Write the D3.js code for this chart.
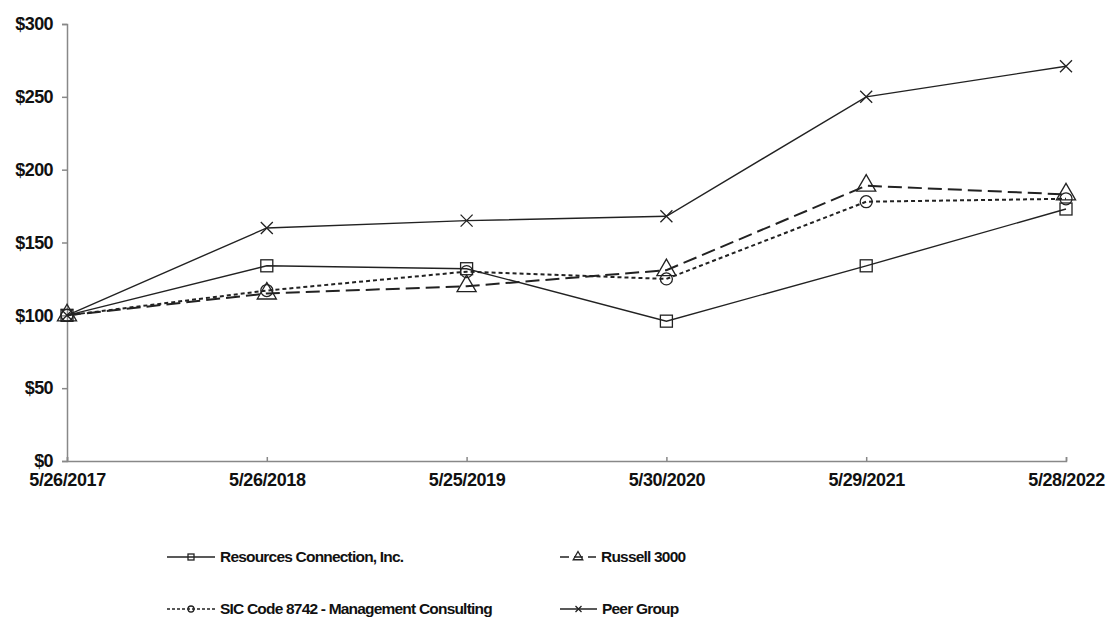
<!DOCTYPE html>
<html>
<head>
<meta charset="utf-8">
<script src="https://cdn.jsdelivr.net/npm/d3@7"></script>
<style>
  body { margin: 0; background: #fff; }
  text { font-family: "Liberation Sans", Arial, sans-serif; font-weight: bold; fill: #111; }
</style>
</head>
<body>
<div id="chart"></div>
<script>
// data
var dates = ["5/26/2017", "5/26/2018", "5/25/2019", "5/30/2020", "5/29/2021", "5/28/2022"];
var resources = [100, 134, 132, 96, 134, 173];
var russell = [100, 115, 120, 131, 189, 183];
var sic = [100, 117, 130, 125, 178, 180];
var peer = [100, 160, 165, 168, 250, 271];
var yTicks = [0, 50, 100, 150, 200, 250, 300];

var margin = {top: 24, right: 44, bottom: 158, left: 67},
    width = 1110 - margin.left - margin.right,
    height = 619 - margin.top - margin.bottom;

var svg = d3.select("#chart").append("svg")
    .attr("width", 1110)
    .attr("height", 619)
  .append("g")
    .attr("transform", "translate(" + margin.left + "," + margin.top + ")");

var x = d3.scalePoint().domain(dates).range([0, width]);
var y = d3.scaleLinear().domain([0, 300]).range([height, 0]);

// y axis
var yAxis = svg.append("g")
    .call(d3.axisLeft(y).tickValues(yTicks).tickSize(5).tickPadding(9)
      .tickFormat(function(d) { return "$" + d; }));
yAxis.selectAll("text").style("font-size", "18px").style("letter-spacing", "-0.6px");

// x axis, ticks point up into the plot
var xAxis = svg.append("g")
    .attr("transform", "translate(0," + height + ")")
    .call(d3.axisBottom(x).tickSize(-4).tickPadding(14));
xAxis.selectAll("text").style("font-size", "18px").style("letter-spacing", "-0.4px").attr("dy", "0.6em");

svg.selectAll(".domain, .tick line").attr("stroke", "#888").attr("stroke-width", 1.5);

var series = [
  {name: "Resources Connection, Inc.", values: resources, dash: null, marker: "square"},
  {name: "Russell 3000", values: russell, dash: "14,6", marker: "triangle"},
  {name: "SIC Code 8742 - Management Consulting", values: sic, dash: "4,3", marker: "circle"},
  {name: "Peer Group", values: peer, dash: null, marker: "cross"}
];

var line = d3.line()
    .x(function(d, i) { return x(dates[i]); })
    .y(function(d) { return y(d); });

function drawMarker(g, type, size) {
  if (type === "square") {
    g.append("rect").attr("x", -size).attr("y", -size)
      .attr("width", size * 2).attr("height", size * 2)
      .attr("fill", "none").attr("stroke", "#222").attr("stroke-width", 1.3);
  } else if (type === "triangle") {
    g.append("path").attr("d", d3.symbol(d3.symbolTriangle, size * size * 4.4)())
      .attr("fill", "none").attr("stroke", "#222").attr("stroke-width", 1.3);
  } else if (type === "circle") {
    g.append("circle").attr("r", size)
      .attr("fill", "none").attr("stroke", "#222").attr("stroke-width", 1.3);
  } else {
    g.append("path")
      .attr("d", "M" + (-size) + "," + (-size) + "L" + size + "," + size +
                 "M" + (-size) + "," + size + "L" + size + "," + (-size))
      .attr("stroke", "#222").attr("stroke-width", 1.3);
  }
}

series.forEach(function(s) {
  svg.append("path")
      .datum(s.values)
      .attr("fill", "none")
      .attr("stroke", "#222")
      .attr("stroke-width", s.dash ? 2 : 1.4)
      .attr("stroke-dasharray", s.dash)
      .attr("d", line);

  s.values.forEach(function(v, i) {
    var g = svg.append("g")
        .attr("transform", "translate(" + x(dates[i]) + "," + y(v) + ")");
    drawMarker(g, s.marker, 6);
  });
});

// legend
var legendPos = [
  {lx: 167, ly: 557, len: 48},
  {lx: 560, ly: 557, len: 36},
  {lx: 167, ly: 609, len: 48},
  {lx: 560, ly: 609, len: 37}
];
var legend = d3.select("svg").append("g");
series.forEach(function(s, i) {
  var p = legendPos[i];
  var g = legend.append("g").attr("transform", "translate(" + p.lx + "," + p.ly + ")");
  g.append("line")
      .attr("x1", 0).attr("x2", p.len)
      .attr("stroke", "#222").attr("stroke-width", 1.5)
      .attr("stroke-dasharray", s.dash ? (s.marker === "triangle" ? "9,5" : "3,2") : null);
  var m = g.append("g").attr("transform", "translate(" + (p.len / 2) + ",0)");
  drawMarker(m, s.marker, 3);
  g.append("text")
      .attr("x", p.len + 5)
      .attr("dy", "0.35em")
      .style("font-size", "15.5px")
      .style("letter-spacing", "-0.8px")
      .text(s.name);
});
</script>
</body>
</html>
